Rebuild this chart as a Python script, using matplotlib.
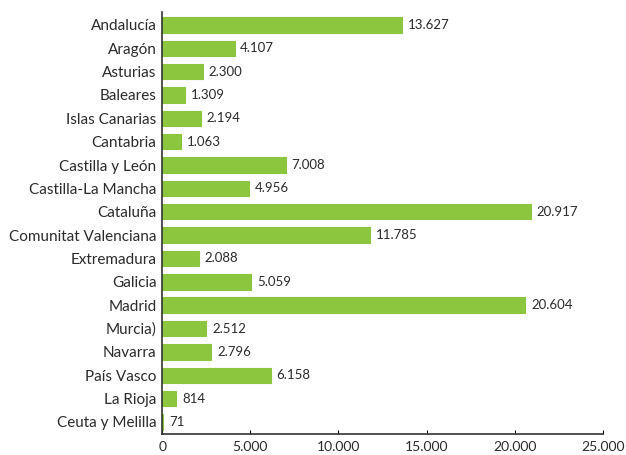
import matplotlib.pyplot as plt
from matplotlib.ticker import FuncFormatter

regiones = ['Andalucía', 'Aragón', 'Asturias', 'Baleares', 'Islas Canarias',
            'Cantabria', 'Castilla y León', 'Castilla-La Mancha', 'Cataluña',
            'Comunitat Valenciana', 'Extremadura', 'Galicia', 'Madrid',
            'Murcia)', 'Navarra', 'País Vasco', 'La Rioja', 'Ceuta y Melilla']
valores = [13627, 4107, 2300, 1309, 2194, 1063, 7008, 4956, 20917,
           11785, 2088, 5059, 20604, 2512, 2796, 6158, 814, 71]
xticks = [0, 5000, 10000, 15000, 20000, 25000]

def miles(v):
    return f'{int(v):,}'.replace(',', '.')

plt.rcParams['font.family'] = ['Lato', 'DejaVu Sans']
texto = '#2b2b2b'

fig = plt.figure(figsize=(6.26, 4.55), dpi=100)
ax = fig.add_axes([0.259, 0.046, 0.704, 0.928])

pos = list(range(len(regiones)))
ax.barh(pos, valores, height=0.66, color='#8CC63E', edgecolor='#8CC63E', linewidth=0.8)
for p, v in zip(pos, valores):
    ax.text(v + 320, p, miles(v), va='center', ha='left', fontsize=9.5, color=texto)

ax.set_ylim(len(regiones) - 0.48, -0.56)
ax.set_xlim(0, 25000)
ax.set_yticks(pos)
ax.set_yticklabels(regiones, fontsize=11, color=texto)
ax.set_xticks(xticks)
ax.xaxis.set_major_formatter(FuncFormatter(lambda v, _: miles(v)))
ax.tick_params(axis='y', length=0, pad=4)
ax.tick_params(axis='x', direction='in', length=3, labelsize=10, labelcolor=texto, pad=5)
for s in ['top', 'right']:
    ax.spines[s].set_visible(False)
for s in ['left', 'bottom']:
    ax.spines[s].set_color('#333333')
    ax.spines[s].set_linewidth(1.2)

fig.savefig('out.png', dpi=100)
